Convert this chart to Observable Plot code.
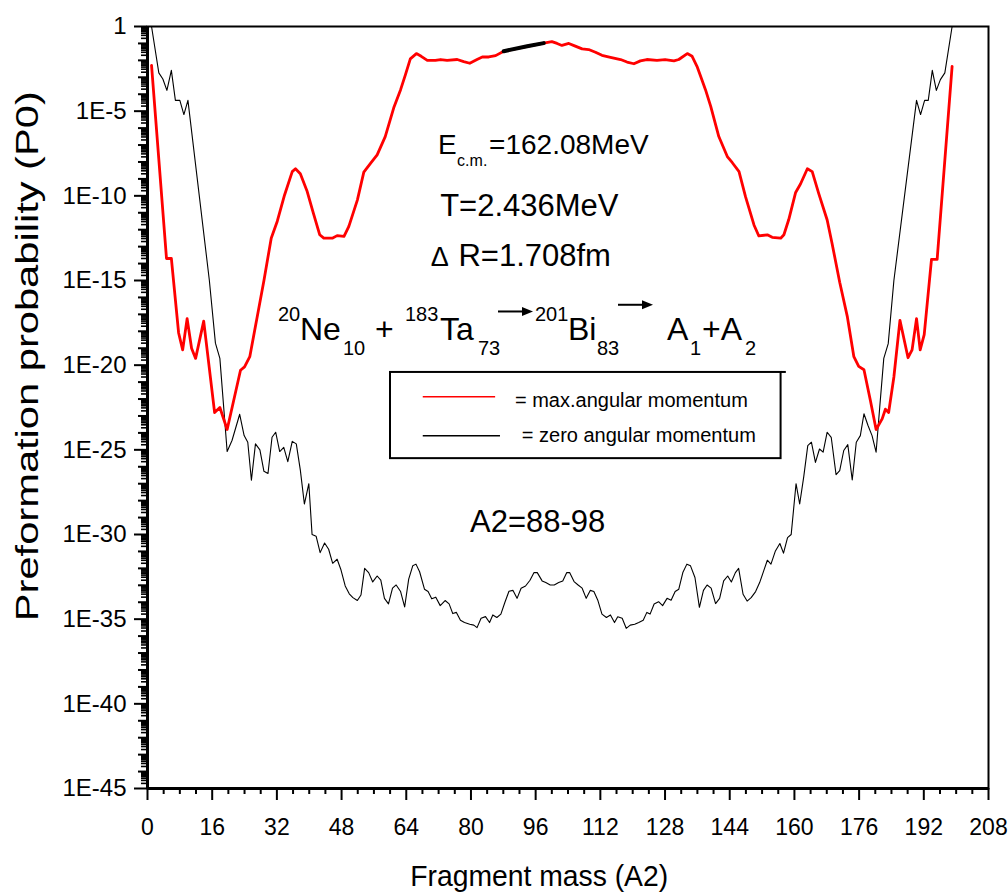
<!DOCTYPE html>
<html>
<head>
<meta charset="utf-8">
<script src="https://cdn.jsdelivr.net/npm/d3@7"></script>
<script src="https://cdn.jsdelivr.net/npm/@observablehq/plot@0.6"></script>
<style>
  html, body { margin: 0; padding: 0; background: #fff; }
  #chart svg { display: block; }
</style>
</head>
<body>
<div id="chart"></div>
<script>
// Preformation probability P0 versus fragment mass A2 for 20Ne + 183Ta -> 201Bi.
// Values are stored as log10(P0).

// maximum angular momentum
const maxLA = [1.0, 4.7, 5.9, 7.7, 8.7, 9.8, 10.9, 11.9, 13.9, 16.6, 17.9, 19.7, 23.0, 24.0, 25.3, 28.8,
  30.6, 32.1, 33.9, 35.8, 36.6, 37.8, 39.5, 41.0, 42.6, 43.6, 45.7, 46.9, 48.6, 49.8, 51.9, 53.5,
  55.2, 56.8, 58.8, 60.9, 62.6, 63.8, 65.0, 66.5, 67.7, 69.2, 71.2, 72.5, 74.1, 76.6, 78.2, 79.7,
  81.5, 82.8, 84.4, 86.1, 88.1, 93.9, 98.0, 100.0, 101.3, 102.5, 104.2, 105.8, 107.5, 109.1, 110.8,
  112.4, 114.5, 117.0, 118.6, 120.3, 121.9, 123.5, 126.0, 128.0, 130.2, 131.4, 133.5, 134.7, 135.9,
  136.8, 138.0, 139.3, 141.3, 143.4, 144.6, 146.3, 147.9, 150.0, 151.2, 153.3, 154.5, 156.6, 157.4,
  158.6, 160.3, 161.5, 163.2, 164.4, 166.0, 168.1, 169.3, 171.2, 173.1, 174.7, 175.9, 177.2, 178.8,
  180.2, 181.7, 182.5, 183.3, 184.6, 186.1, 188.1, 189.1, 190.2, 191.1, 192.1, 193.9, 195.3, 199.0];
const maxLLog = [-2.3, -13.7, -13.7, -18.1, -19.1, -17.25, -19.0, -19.6, -17.4, -22.8, -22.5, -23.8, -20.3, -20.1, -19.5, -15.0,
  -12.5, -11.5, -9.95, -8.57, -8.4, -8.7, -9.75, -11.0, -12.3, -12.5, -12.5, -12.35, -12.4, -11.8, -10.25, -8.6,
  -8.07, -7.58, -6.5, -4.8, -3.73, -2.84, -1.91, -1.6, -1.76, -2.0, -2.0, -1.95, -2.0, -1.95, -2.07, -2.17,
  -1.95, -1.8, -1.8, -1.72, -1.46, -1.17, -0.98, -0.89, -1.0, -1.12, -1.0, -1.16, -1.32, -1.36, -1.52,
  -1.7, -1.82, -1.95, -2.1, -2.2, -2.03, -1.95, -2.0, -1.95, -2.03, -1.95, -1.6, -1.76, -2.35,
  -2.94, -3.73, -4.72, -6.5, -7.68, -8.03, -8.57, -10.05, -11.72, -12.37, -12.3, -12.45, -12.5, -12.3,
  -11.4, -9.8, -9.3, -8.4, -8.57, -9.85, -11.43, -12.8, -15.1, -17.15, -19.5, -20.07, -20.27, -22.1,
  -23.8, -23.17, -22.6, -22.8, -20.7, -17.35, -19.56, -19.1, -17.25, -19.1, -18.2, -13.75, -13.75, -2.35];

// zero angular momentum
const zeroLA = [1.0, 2.8, 3.8, 4.8, 5.9, 6.9, 8.0, 9.0, 10.0, 15.3, 16.8, 17.9, 19.7, 20.9, 22.8, 23.9,
  24.8, 25.7, 26.7, 27.8, 28.8, 29.8, 30.8, 31.7, 32.7, 33.7, 34.7, 35.8, 36.8, 37.8, 38.8, 39.9,
  40.7, 41.7, 42.7, 43.8, 44.8, 45.8, 46.9, 47.8, 48.9, 49.9, 50.8, 51.9, 52.8, 53.7, 54.7, 55.7,
  56.8, 57.7, 58.6, 59.6, 60.6, 61.5, 62.6, 63.6, 64.6, 65.6, 66.4, 67.3, 68.5, 69.4, 70.3, 71.3,
  72.4, 73.6, 74.6, 75.5, 76.4, 77.4, 78.4, 79.7, 80.7, 81.5, 82.5, 83.6, 84.6, 85.4, 86.4, 87.4,
  88.4, 89.4, 90.4, 91.4, 92.4, 93.5, 94.6, 95.6, 96.4, 97.6, 98.5, 99.6, 100.6, 101.7, 102.7, 103.7,
  104.4, 105.5, 106.5, 107.5, 108.5, 109.5, 110.4, 111.4, 112.4, 113.5, 114.5, 115.5, 116.3, 117.4, 118.4, 119.4,
  120.5, 121.5, 122.6, 123.5, 124.3, 125.3, 126.4, 127.4, 128.5, 129.5, 130.5, 131.4, 132.4, 133.4, 134.3, 135.4,
  136.5, 137.5, 138.4, 139.4, 140.5, 141.5, 142.5, 143.5, 144.4, 145.4, 146.2, 147.3, 148.3, 149.3, 150.4, 151.4,
  152.4, 153.3, 154.2, 155.3, 156.4, 157.3, 158.3, 159.2, 160.4, 161.3, 162.3, 163.3, 164.2, 165.2, 166.2, 167.1,
  168.1, 169.1, 170.3, 171.2, 172.2, 173.2, 174.3, 175.3, 176.3, 177.2, 178.2, 179.2, 180.2, 181.1, 182.1, 183.2,
  184.6, 190.2, 191.2, 192.2, 193.1, 194.1, 195.1, 196.1, 197.2, 199.0];
const zeroLLog = [0, -2.74, -3.1, -3.77, -2.59, -4.36, -4.36, -5.2, -4.36, -15.0, -18.7, -19.6, -25.1, -24.45, -22.9, -24.16,
  -24.55, -26.8, -24.65, -25.0, -26.27, -26.4, -24.26, -23.96, -25.1, -24.85, -25.7, -24.5, -24.65, -26.2, -28.2, -27.0,
  -30.0, -30.1, -31.07, -30.5, -30.87, -31.7, -31.46, -32.05, -33.04, -33.5, -33.73, -33.9, -33.57, -32.0, -32.25, -32.8,
  -32.45, -32.7, -33.77, -34.1, -33.17, -32.98, -33.37, -34.28, -32.64, -31.85, -31.75, -32.2, -33.23, -33.37, -33.8, -33.7,
  -34.2, -33.9, -34.1, -34.67, -34.6, -35.07, -35.2, -35.3, -35.35, -35.5, -34.95, -34.85, -35.2, -34.75, -34.9, -34.7,
  -34.0, -33.35, -33.3, -33.77, -33.17, -33.04, -32.7, -32.25, -32.25, -32.74, -32.84, -32.98, -32.98, -32.84, -32.74, -32.25,
  -32.25, -32.78, -32.98, -33.17, -33.77, -33.3, -33.37, -33.9, -34.7, -34.9, -34.75, -35.2, -34.86, -34.95, -35.54, -35.35,
  -35.3, -35.2, -35.07, -34.6, -34.7, -34.1, -33.97, -34.2, -33.77, -33.88, -33.37, -33.23, -32.25, -31.75, -31.85, -32.54,
  -34.3, -33.3, -32.98, -33.17, -34.08, -33.77, -32.74, -32.45, -32.8, -32.25, -32.0, -33.53, -33.93, -33.73, -33.37, -32.84,
  -32.15, -31.52, -31.75, -30.97, -30.53, -31.1, -30.18, -30.0, -27.0, -28.2, -26.6, -24.75, -24.55, -25.74, -24.95, -25.14,
  -23.96, -24.26, -26.47, -26.23, -25.04, -24.69, -26.78, -24.55, -24.16, -22.87, -23.56, -24.16, -25.14, -22.48, -19.6, -18.73,
  -15.0, -4.36, -5.2, -4.36, -4.36, -2.59, -3.77, -3.14, -2.74, 0];

// fragment range picked out on the max-L curve
const highlightRange = [88, 98];

// axis ticks
const xTickValues = [0, 16, 32, 48, 64, 80, 96, 112, 128, 144, 160, 176, 192, 208];
const xMinorStep = 4;
const yTickExponents = [0, -5, -10, -15, -20, -25, -30, -35, -40, -45];

const toRows = (as, logs) => as.map((a, i) => ({a, p: Math.pow(10, logs[i])}));
const maxL = toRows(maxLA, maxLLog);
const zeroL = toRows(zeroLA, zeroLLog);
const highlight = maxL.filter(d => d.a >= highlightRange[0] && d.a <= highlightRange[1]);

const xMinor = d3.range(0, 208 + 1e-9, xMinorStep).filter(v => !xTickValues.includes(v));
const yMajor = yTickExponents.map(e => Math.pow(10, e));
const yDecades = d3.range(-45, 1).filter(e => !yTickExponents.includes(e)).map(e => Math.pow(10, e));
const ySub = [];
for (let e = -45; e < 0; e++) for (let m = 2; m <= 9; m++) ySub.push(m * Math.pow(10, e));

const FONT = "'Liberation Sans', Arial, Helvetica, sans-serif";
const fmtY = d => {
  const e = Math.round(Math.log10(d));
  return e === 0 ? "1" : `1E${e}`;
};

const chart = Plot.plot({
  width: 1008,
  height: 895,
  marginLeft: 147,
  marginRight: 20,
  marginTop: 26,
  marginBottom: 107,
  style: {fontFamily: FONT, background: "#fff", color: "#000", overflow: "visible"},
  x: {domain: [0, 208]},
  y: {type: "log", domain: [1e-45, 1]},
  marks: [
    Plot.frame({stroke: "#000", strokeWidth: 2}),
    Plot.axisX(xMinor, {tickSize: 6, strokeWidth: 2, tickFormat: () => "", label: null}),
    Plot.axisX(xTickValues, {tickSize: 12, strokeWidth: 2, tickPadding: 18, fontSize: 23,
      tickFormat: d => String(d), label: null}),
    Plot.axisY(ySub, {tickSize: 6, strokeWidth: 1.6, tickFormat: () => "", label: null}),
    Plot.axisY(yDecades, {tickSize: 9, strokeWidth: 2, tickFormat: () => "", label: null}),
    Plot.axisY(yMajor, {tickSize: 13, strokeWidth: 2, tickPadding: 8, fontSize: 24,
      tickFormat: fmtY, label: null}),
    Plot.ruleX([0], {stroke: "#000", strokeWidth: 3}),
    Plot.ruleY([1e-45], {stroke: "#000", strokeWidth: 3}),
    Plot.line(zeroL, {x: "a", y: "p", stroke: "#000", strokeWidth: 1.1}),
    Plot.line(maxL, {x: "a", y: "p", stroke: "#ff0000", strokeWidth: 2.8}),
    Plot.line(highlight, {x: "a", y: "p", stroke: "#000", strokeWidth: 4})
  ]
});

document.getElementById("chart").appendChild(chart);

// annotations, legend and axis titles, anchored through the chart's scales
const X = chart.scale("x").apply;
const Y = chart.scale("y").apply;
const P = e => Math.pow(10, e);
const svg = d3.select(chart);
const g = svg.append("g")
  .attr("font-family", FONT)
  .attr("fill", "#000")
  .attr("text-anchor", "start");

function token(parent, x, y, text, size) {
  parent.append("text")
    .attr("x", x).attr("y", y)
    .attr("text-anchor", "start")
    .attr("font-size", size)
    .text(text);
}

// beam energy, temperature and neck length
{
  const x0 = X(72.0), y0 = Y(P(-7.58));
  token(g, x0, y0, "E", 28);
  token(g, x0 + 19, y0 + 11.7, "c.m.", 16);
  token(g, x0 + 51, y0, "=162.08MeV", 28);
}
token(g, X(72.5), Y(P(-11.23)), "T=2.436MeV", 31);
{
  const x0 = X(70.2), y0 = Y(P(-14.19));
  token(g, x0, y0, "\u0394", 27);
  token(g, x0 + 27.6, y0, "R=1.708fm", 31);
}

// reaction
{
  const x0 = X(32.4), y0 = Y(P(-18.53));
  const lift = {sup: -19, main: 0, sub: 15};
  const size = {sup: 20, main: 32, sub: 20};
  const parts = [
    ["20", 0, "sup"], ["Ne", 22, "main"], ["10", 65, "sub"], ["+", 97, "main"],
    ["183", 127, "sup"], ["Ta", 162, "main"], ["73", 200, "sub"],
    ["201", 257, "sup"], ["Bi", 290, "main"], ["83", 319, "sub"],
    ["A", 389, "main"], ["1", 412, "sub"], ["+A", 424, "main"], ["2", 467, "sub"]
  ];
  for (const [t, dx, k] of parts) token(g, x0 + dx, y0 + lift[k], t, size[k]);
  const arrows = [[220, 255, -28.3], [340, 375, -35]];
  for (const [a, b, dy] of arrows) {
    g.append("line").attr("x1", x0 + a).attr("x2", x0 + b - 9)
      .attr("y1", y0 + dy).attr("y2", y0 + dy).attr("stroke", "#000").attr("stroke-width", 2);
    g.append("path")
      .attr("d", `M${x0 + b},${y0 + dy} l-11,-4.5 v9 z`).attr("fill", "#000");
  }
}

token(g, X(79.9), Y(P(-29.88)), "A2=88-98", 31);

// legend
{
  const left = X(60.1), right = X(156.7), top = Y(P(-20.43)), bottom = Y(P(-25.52));
  g.append("rect").attr("x", left).attr("y", top).attr("width", right - left).attr("height", bottom - top)
    .attr("fill", "none").attr("stroke", "#000").attr("stroke-width", 2);
  g.append("line").attr("x1", right).attr("x2", X(158.0)).attr("y1", top).attr("y2", top)
    .attr("stroke", "#000").attr("stroke-width", 2);
  g.append("line").attr("x1", X(68.2)).attr("x2", X(86.1)).attr("y1", Y(P(-21.89))).attr("y2", Y(P(-21.89)))
    .attr("stroke", "#ff0000").attr("stroke-width", 1.5);
  g.append("line").attr("x1", X(68.2)).attr("x2", X(87.3)).attr("y1", Y(P(-24.2))).attr("y2", Y(P(-24.2)))
    .attr("stroke", "#000").attr("stroke-width", 1.5);
  token(g, X(91.0), Y(P(-22.48)), "= max.angular momentum", 20);
  token(g, X(92.7), Y(P(-24.55)), "= zero angular momentum", 20);
}

// axis titles
g.append("text").attr("x", X(97)).attr("y", 886).attr("text-anchor", "middle")
  .attr("font-size", 29).attr("textLength", 258).attr("lengthAdjust", "spacingAndGlyphs")
  .text("Fragment mass (A2)");
g.append("text").attr("transform", `translate(38,${Y(P(-19.5))}) rotate(-90)`)
  .attr("text-anchor", "middle").attr("font-size", 31)
  .attr("textLength", 530).attr("lengthAdjust", "spacingAndGlyphs")
  .text("Preformation probability (P0)");
</script>
</body>
</html>
